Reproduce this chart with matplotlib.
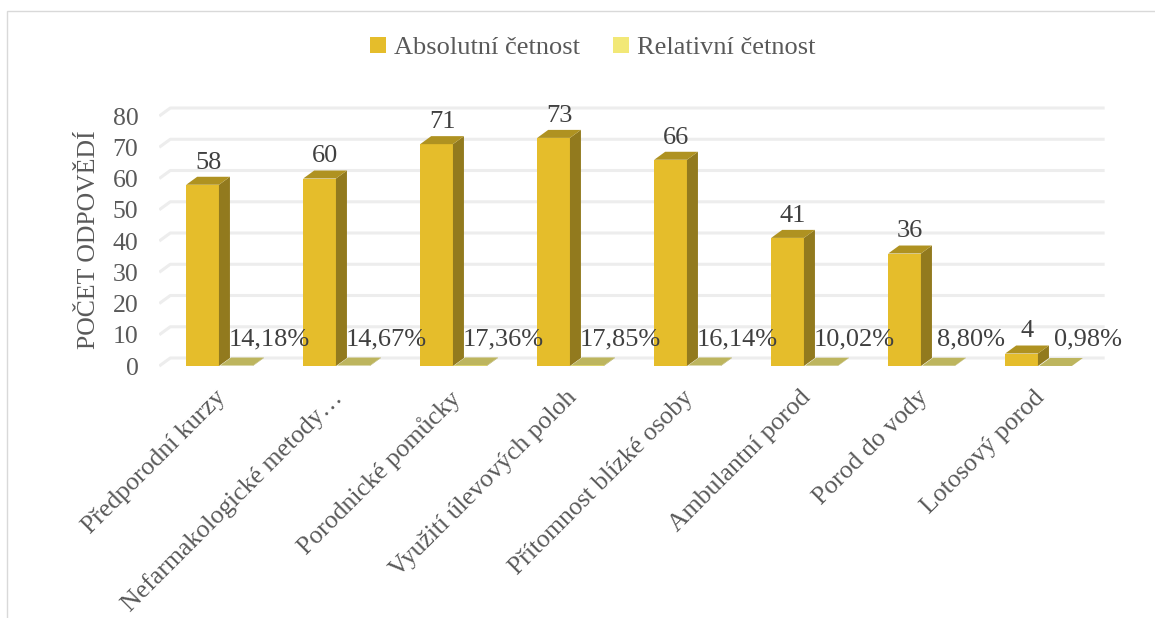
import matplotlib
matplotlib.use("Agg")
import matplotlib.pyplot as plt
from matplotlib.patches import Polygon, Patch, Rectangle

plt.rcParams['font.family'] = ['Liberation Serif', 'DejaVu Serif']

kategorie = ['Předporodní kurzy', 'Nefarmakologické metody…', 'Porodnické pomůcky',
             'Využití úlevových poloh', 'Přítomnost blízké osoby', 'Ambulantní porod',
             'Porod do vody', 'Lotosový porod']
absolutni = [58, 60, 71, 73, 66, 41, 36, 4]
relativni = [0.1418, 0.1467, 0.1736, 0.1785, 0.1614, 0.1002, 0.0880, 0.0098]
y_ticks = [0, 10, 20, 30, 40, 50, 60, 70, 80]

# barvy
abs_front, abs_side, abs_top = '#e5bd2b', '#927a1e', '#af9221'
rel_front, rel_side, rel_top = '#f2e877', '#a39c48', '#bdb55e'
grid_col = '#ededed'
txt_col = '#595959'
lbl_col = '#404040'

w = 0.28      # sirka sloupce
dx = 0.094    # hloubka - posun v x
dy = 2.56     # hloubka - posun v y
x_lo, x_hi = -0.51, 7.57

fig = plt.figure(figsize=(11.55, 6.18), dpi=100)
ax = fig.add_axes([0.1379, 0.4027, 0.8185, 0.4399])
ax.set_xlim(x_lo, x_hi)
ax.set_ylim(-1, 86)
for s in ax.spines.values():
    s.set_visible(False)
ax.set_xticks([])
ax.set_yticks(y_ticks)
ax.set_yticklabels([str(v) for v in y_ticks])
ax.tick_params(axis='y', length=0, pad=15, labelsize=18.5, labelcolor=txt_col)
ax.set_ylabel('POČET ODPOVĚDÍ', fontsize=18.5, color=txt_col)
ax.yaxis.set_label_coords(-0.063, 0.475)

# mrizka na zadni stene + sikma cast na boku
for v in y_ticks:
    ax.plot([x_lo, x_lo + dx, x_hi], [v, v + dy, v + dy], color=grid_col,
            lw=2.2, zorder=0, solid_capstyle='butt')


def kvadr(x0, h, front, side, top):
    ax.bar(x0, h, width=w, align='edge', color=front, zorder=2)
    ax.add_patch(Polygon([(x0 + w, 0), (x0 + w + dx, dy), (x0 + w + dx, h + dy), (x0 + w, h)],
                         closed=True, facecolor=side, edgecolor='none', zorder=2))
    ax.add_patch(Polygon([(x0, h), (x0 + w, h), (x0 + w + dx, h + dy), (x0 + dx, h + dy)],
                         closed=True, facecolor=top, edgecolor='none', zorder=2))


for i, (a, r) in enumerate(zip(absolutni, relativni)):
    kvadr(i - w, a, abs_front, abs_side, abs_top)
    kvadr(i + 0.01, r, rel_front, rel_side, rel_top)
    ax.text(i - w / 2 + dx / 2, a + dy + 1, str(a), ha='center', va='bottom',
            fontsize=19, color=lbl_col, zorder=3)
    ax.text(i + 0.43, 8.5, f"{r * 100:.2f}%".replace('.', ','), ha='center', va='center',
            fontsize=19, color=lbl_col, zorder=3)
    ax.text(i - 0.04, -6.5, kategorie[i], ha='right', va='top', rotation=45,
            rotation_mode='anchor', fontsize=18.5, color=txt_col, clip_on=False)

handles = [Patch(facecolor=abs_front, label='Absolutní četnost'),
           Patch(facecolor=rel_front, label='Relativní četnost')]
fig.legend(handles=handles, loc='center', bbox_to_anchor=(0.513, 1 - 48 / 618), ncol=2,
           frameon=False, fontsize=19, handlelength=0.6, handleheight=0.6,
           handletextpad=0.3, columnspacing=1.25, labelcolor=txt_col)

# ramecek grafu
fig.patches.append(Rectangle((7 / 1155, -0.1), 1.2, 1 - 11 / 618 + 0.1, transform=fig.transFigure,
                             fill=False, edgecolor='#d9d9d9', lw=1))

fig.savefig('out.png', dpi=100)
